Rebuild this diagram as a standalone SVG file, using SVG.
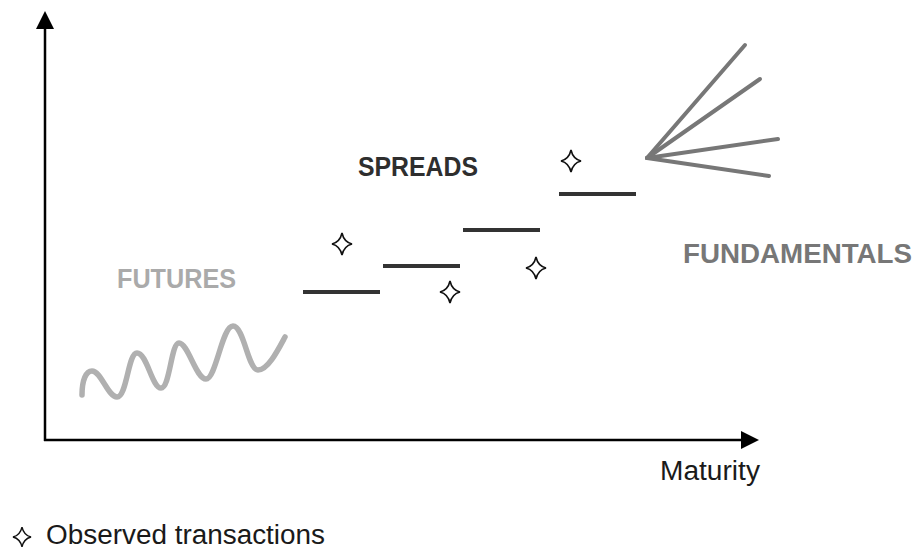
<svg xmlns="http://www.w3.org/2000/svg" width="916" height="550" viewBox="0 0 916 550">
<style>
.lbl{font-family:"Liberation Sans",Arial,sans-serif;font-weight:bold;font-size:27px}
.txt{font-family:"Liberation Sans",Arial,sans-serif;font-size:27px;fill:#1a1a1a}
.step{stroke:#333;stroke-width:4;fill:none}
.fund{stroke:#777;stroke-width:4;stroke-linecap:round;fill:none}
.star{fill:#fff;stroke:#111;stroke-width:1.6;stroke-linejoin:miter}
</style>
<defs>
<path id="starShape" d="M0,-11 Q2,-2 10,0 Q2,2 0,11 Q-2,2 -10,0 Q-2,-2 0,-11 Z"/>
</defs>
<g id="axes">
<line x1="45" y1="441" x2="45" y2="28" stroke="#000" stroke-width="2.5"/>
<polygon points="45,11 36,29 54,29" fill="#000"/>
<line x1="44" y1="440" x2="742" y2="440" stroke="#000" stroke-width="2.5"/>
<polygon points="759,440 741,431 741,449" fill="#000"/>
</g>
<g id="futures">
<path d="M82,395 C82,380 86,371 92,371 C101,371 108,397 117,397 C127,397 128,353 137,353 C147,353 152,388 161,388 C170,388 171,343 179,343 C188,343 196,379 206,379 C216,379 222,326 233,326 C244,326 248,370 258,370 C268,370 278,350 285,337" fill="none" stroke="#b0b0b0" stroke-width="5.5" stroke-linecap="round"/>
<text class="lbl" x="117" y="288" fill="#aaaaaa" textLength="119" lengthAdjust="spacingAndGlyphs">FUTURES</text>
</g>
<g id="spreads">
<text class="lbl" x="358" y="176" fill="#2e2e2e" textLength="120" lengthAdjust="spacingAndGlyphs">SPREADS</text>
<line class="step" x1="303" y1="292" x2="380" y2="292"/>
<line class="step" x1="383" y1="266" x2="460" y2="266"/>
<line class="step" x1="463" y1="230" x2="540" y2="230"/>
<line class="step" x1="559" y1="194" x2="636" y2="194"/>
</g>
<g id="transactions">
<use href="#starShape" class="star" transform="translate(342,244)"/>
<use href="#starShape" class="star" transform="translate(450,292)"/>
<use href="#starShape" class="star" transform="translate(536,268)"/>
<use href="#starShape" class="star" transform="translate(571,161)"/>
</g>
<g id="fundamentals">
<line class="fund" x1="647" y1="158" x2="745" y2="45"/>
<line class="fund" x1="647" y1="158" x2="760" y2="79"/>
<line class="fund" x1="647" y1="158" x2="778" y2="139"/>
<line class="fund" x1="647" y1="158" x2="769" y2="176"/>
<text class="lbl" x="683" y="263" fill="#777777" textLength="229" lengthAdjust="spacingAndGlyphs">FUNDAMENTALS</text>
</g>
<g id="maturity">
<text class="txt" x="660" y="480" font-size="25" textLength="100" lengthAdjust="spacingAndGlyphs">Maturity</text>
</g>
<g id="legend">
<use href="#starShape" class="star" transform="translate(22,537) scale(0.9)"/>
<text class="txt" x="46" y="544" font-size="26" textLength="279" lengthAdjust="spacingAndGlyphs">Observed transactions</text>
</g>
</svg>
